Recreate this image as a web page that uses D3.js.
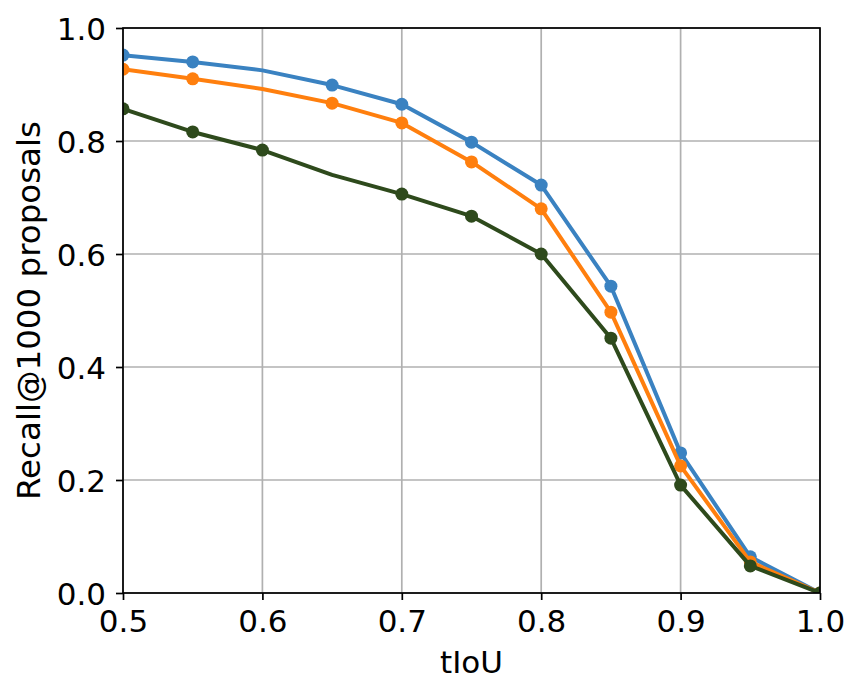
<!DOCTYPE html>
<html>
<head>
<meta charset="utf-8">
<script src="https://cdn.jsdelivr.net/npm/d3@7"></script>
<style>
  body { margin: 0; background: #fff; }
  svg { display: block; font-family: 'DejaVu Sans', sans-serif; }
</style>
</head>
<body>
<svg id="chart"></svg>
<script>
const tiou = [0.5, 0.55, 0.6, 0.65, 0.7, 0.75, 0.8, 0.85, 0.9, 0.95, 1.0];

const blueRecall = [0.952, 0.940, 0.925, 0.899, 0.865, 0.798, 0.722, 0.543, 0.248, 0.064, 0.0];
const orangeRecall = [0.927, 0.910, 0.892, 0.867, 0.832, 0.763, 0.680, 0.497, 0.225, 0.055, 0.0];
const greenRecall = [0.857, 0.816, 0.784, 0.740, 0.706, 0.667, 0.600, 0.451, 0.191, 0.048, 0.0];

// points without a marker in the reference
const blueSkip = [0.6];
const orangeSkip = [0.6];
const greenSkip = [0.65];

const xTicks = [0.5, 0.6, 0.7, 0.8, 0.9, 1.0];
const yTicks = [0.0, 0.2, 0.4, 0.6, 0.8, 1.0];

const series = [
  { name: 'blue', values: blueRecall, skip: blueSkip, color: '#3a82c1' },
  { name: 'orange', values: orangeRecall, skip: orangeSkip, color: '#ff7f0e' },
  { name: 'green', values: greenRecall, skip: greenSkip, color: '#2e4a1c' }
];

const width = 863;
const height = 697;
const margin = { top: 28, right: 43, bottom: 104, left: 123 };
const innerW = width - margin.left - margin.right;
const innerH = height - margin.top - margin.bottom;

const svg = d3.select('#chart').attr('width', width).attr('height', height);

const x = d3.scaleLinear().domain([0.5, 1.0]).range([0, innerW]);
const y = d3.scaleLinear().domain([0, 1]).range([innerH, 0]);

const g = svg.append('g').attr('transform', `translate(${margin.left},${margin.top})`);

g.append('defs').append('clipPath').attr('id', 'plot-clip')
  .append('rect').attr('width', innerW).attr('height', innerH);

// grid
g.append('g').selectAll('line').data(xTicks).join('line')
  .attr('x1', d => x(d)).attr('x2', d => x(d))
  .attr('y1', 0).attr('y2', innerH)
  .attr('stroke', '#b0b0b0').attr('stroke-width', 1.7);
g.append('g').selectAll('line').data(yTicks).join('line')
  .attr('x1', 0).attr('x2', innerW)
  .attr('y1', d => y(d)).attr('y2', d => y(d))
  .attr('stroke', '#b0b0b0').attr('stroke-width', 1.7);

const line = d3.line()
  .x((d, i) => x(tiou[i]))
  .y(d => y(d));

const plot = g.append('g').attr('clip-path', 'url(#plot-clip)');

series.forEach(s => {
  plot.append('path')
    .datum(s.values)
    .attr('fill', 'none')
    .attr('stroke', s.color)
    .attr('stroke-width', 4)
    .attr('stroke-linejoin', 'round')
    .attr('d', line);
  const pts = s.values.map((v, i) => ({ t: tiou[i], v }))
    .filter(p => !s.skip.includes(p.t));
  plot.append('g').selectAll('circle').data(pts).join('circle')
    .attr('cx', p => x(p.t))
    .attr('cy', p => y(p.v))
    .attr('r', 6.5)
    .attr('fill', s.color);
});

// axes
const xAxis = d3.axisBottom(x).tickValues(xTicks).tickFormat(d3.format('.1f'))
  .tickSize(7).tickPadding(6);
const yAxis = d3.axisLeft(y).tickValues(yTicks).tickFormat(d3.format('.1f'))
  .tickSize(7).tickPadding(10);

const xg = g.append('g').attr('transform', `translate(0,${innerH})`).call(xAxis);
const yg = g.append('g').call(yAxis);

[xg, yg].forEach(ax => {
  ax.select('.domain').remove();
  ax.selectAll('.tick line').attr('stroke', '#000').attr('stroke-width', 1.7);
  ax.selectAll('.tick text')
    .attr('fill', '#000')
    .style('font-size', '31px')
    .style('font-family', "'DejaVu Sans', sans-serif");
});
xg.selectAll('.tick text').attr('y', 39).attr('dy', 0);
yg.selectAll('.tick text').attr('dy', '0.36em');

// frame
g.append('rect')
  .attr('width', innerW).attr('height', innerH)
  .attr('fill', 'none').attr('stroke', '#000').attr('stroke-width', 1.7);

// labels
svg.append('text')
  .attr('x', margin.left + innerW / 2)
  .attr('y', 673)
  .attr('text-anchor', 'middle')
  .style('font-size', '31px')
  .text('tIoU');

svg.append('text')
  .attr('transform', `translate(40,${margin.top + innerH / 2}) rotate(-90)`)
  .attr('text-anchor', 'middle')
  .style('font-size', '32.5px')
  .text('Recall@1000 proposals');
</script>
</body>
</html>
